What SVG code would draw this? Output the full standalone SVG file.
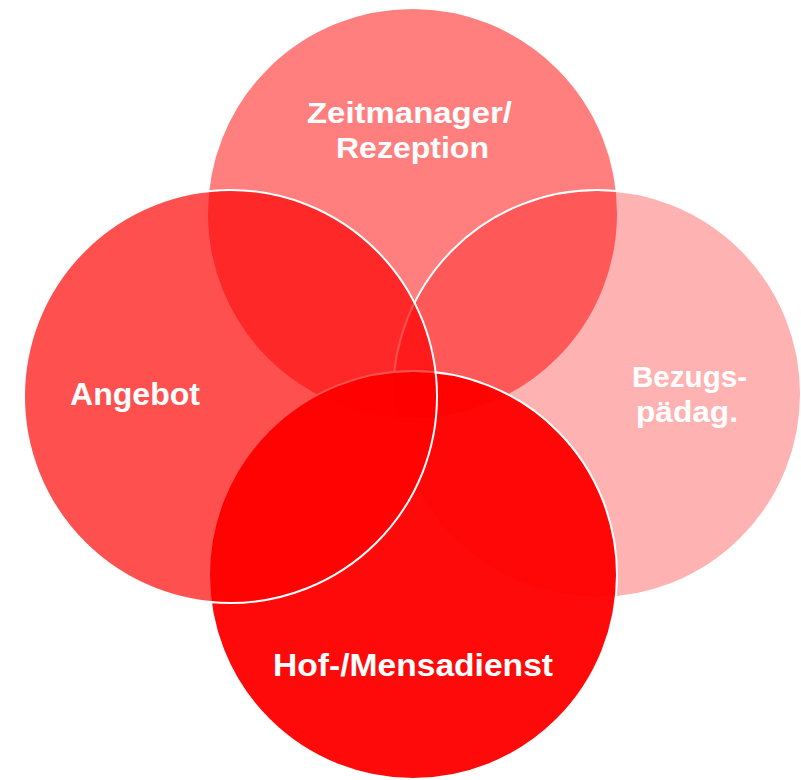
<svg xmlns="http://www.w3.org/2000/svg" width="801" height="780" viewBox="0 0 801 780">
  <style>
    .c { fill: #FF0000; stroke: #FFFFFF; stroke-width: 2; }
    .lbl { font-family: "Liberation Sans", Arial, sans-serif; font-weight: bold; font-size: 30px; fill: #FFFFFF; text-anchor: middle; }
    .big { font-size: 32px; }
  </style>
  <rect width="801" height="780" fill="#FFFFFF"/>
  <g id="node-zeitmanager">
    <circle class="c" cx="412.5" cy="213.5" r="205.5" fill-opacity="0.5" stroke="none"/>
    <text class="lbl" x="409.5" y="123" textLength="205" lengthAdjust="spacingAndGlyphs">Zeitmanager/</text>
    <text class="lbl" x="412.5" y="158" textLength="153" lengthAdjust="spacingAndGlyphs">Rezeption</text>
  </g>
  <g id="node-bezugspaedag">
    <circle class="c" cx="597" cy="394" r="204" fill-opacity="0.3"/>
    <text class="lbl" x="689.5" y="387" textLength="115" lengthAdjust="spacingAndGlyphs">Bezugs-</text>
    <text class="lbl" x="687" y="422" textLength="102" lengthAdjust="spacingAndGlyphs">pädag.</text>
  </g>
  <g id="node-hofmensadienst">
    <circle class="c" cx="413" cy="575" r="204" fill-opacity="0.96"/>
    <text class="lbl big" x="413" y="676" textLength="280" lengthAdjust="spacingAndGlyphs">Hof-/Mensadienst</text>
  </g>
  <g id="node-angebot">
    <circle class="c" cx="230.5" cy="396.5" r="206.5" fill-opacity="0.686"/>
    <text class="lbl big" x="135" y="405" textLength="130" lengthAdjust="spacingAndGlyphs">Angebot</text>
  </g>
</svg>
